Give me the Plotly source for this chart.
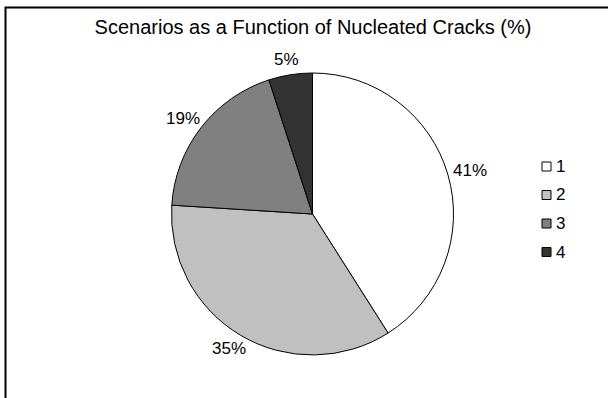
import math
import plotly.graph_objects as go

# Share of each cracking scenario (percent)
categories = ["1", "2", "3", "4"]
shares = [41, 35, 19, 5]
slice_colors = ["#FFFFFF", "#C0C0C0", "#808080", "#333333"]

W, H = 608, 398
CX, CY, R = 312.5, 214.0, 141.0  # pie centre and radius in pixels

def px(x):
    return x / W

def py(y):
    return 1 - y / H

fig = go.Figure(
    go.Pie(
        labels=categories,
        values=shares,
        sort=False,
        direction="clockwise",
        rotation=0,
        marker=dict(colors=slice_colors, line=dict(color="#000000", width=1)),
        textinfo="none",
        showlegend=False,
        domain=dict(x=[px(CX - R), px(CX + R)], y=[py(CY + R), py(CY - R)]),
    )
)

annotations = []
shapes = []
FONT = "Liberation Sans, Arial"

# Percentage labels just outside each slice
total = sum(shares)
cum = 0.0
lab_w, lab_h = 34.0, 18.0
for v in shares:
    mid = (cum + v / 2) / total * 2 * math.pi
    cum += v
    sx, sy = math.sin(mid), -math.cos(mid)
    d = R + 6
    lx = CX + d * sx + lab_w / 2 * sx
    ly = CY + d * sy + lab_h / 2 * sy
    annotations.append(dict(
        x=px(lx), y=py(ly), xref="paper", yref="paper",
        text=f"{round(v / total * 100)}%", showarrow=False,
        font=dict(family=FONT, size=17, color="#000000"),
        xanchor="center", yanchor="middle",
    ))

# Legend: swatch + label per category
leg_x, leg_y0, leg_dy, sw = 542.0, 166.5, 28.5, 9.0
for i, (cat, col) in enumerate(zip(categories, slice_colors)):
    yc = leg_y0 + i * leg_dy
    shapes.append(dict(
        type="rect", xref="paper", yref="paper",
        x0=px(leg_x), x1=px(leg_x + sw), y0=py(yc + sw / 2), y1=py(yc - sw / 2),
        fillcolor=col, line=dict(color="#000000", width=1),
    ))
    annotations.append(dict(
        x=px(leg_x + sw + 3), y=py(yc), xref="paper", yref="paper",
        text=cat, showarrow=False, xanchor="left", yanchor="middle",
        font=dict(family=FONT, size=17, color="#000000"),
    ))

# Chart-area frame (right and bottom edges run off the page)
shapes.append(dict(
    type="rect", xref="paper", yref="paper",
    x0=px(5.5), x1=px(W + 20), y0=py(H + 20), y1=py(7.5),
    line=dict(color="#000000", width=2), fillcolor="rgba(0,0,0,0)",
))

fig.update_layout(
    width=W, height=H,
    margin=dict(l=0, r=0, t=0, b=0),
    paper_bgcolor="#FFFFFF",
    plot_bgcolor="#FFFFFF",
    title=dict(
        text="Scenarios as a Function of Nucleated Cracks (%)",
        x=px(313), y=py(27), xanchor="center", yanchor="middle",
        font=dict(family=FONT, size=20, color="#000000"),
    ),
    annotations=annotations,
    shapes=shapes,
)

fig.write_html("out.html")
